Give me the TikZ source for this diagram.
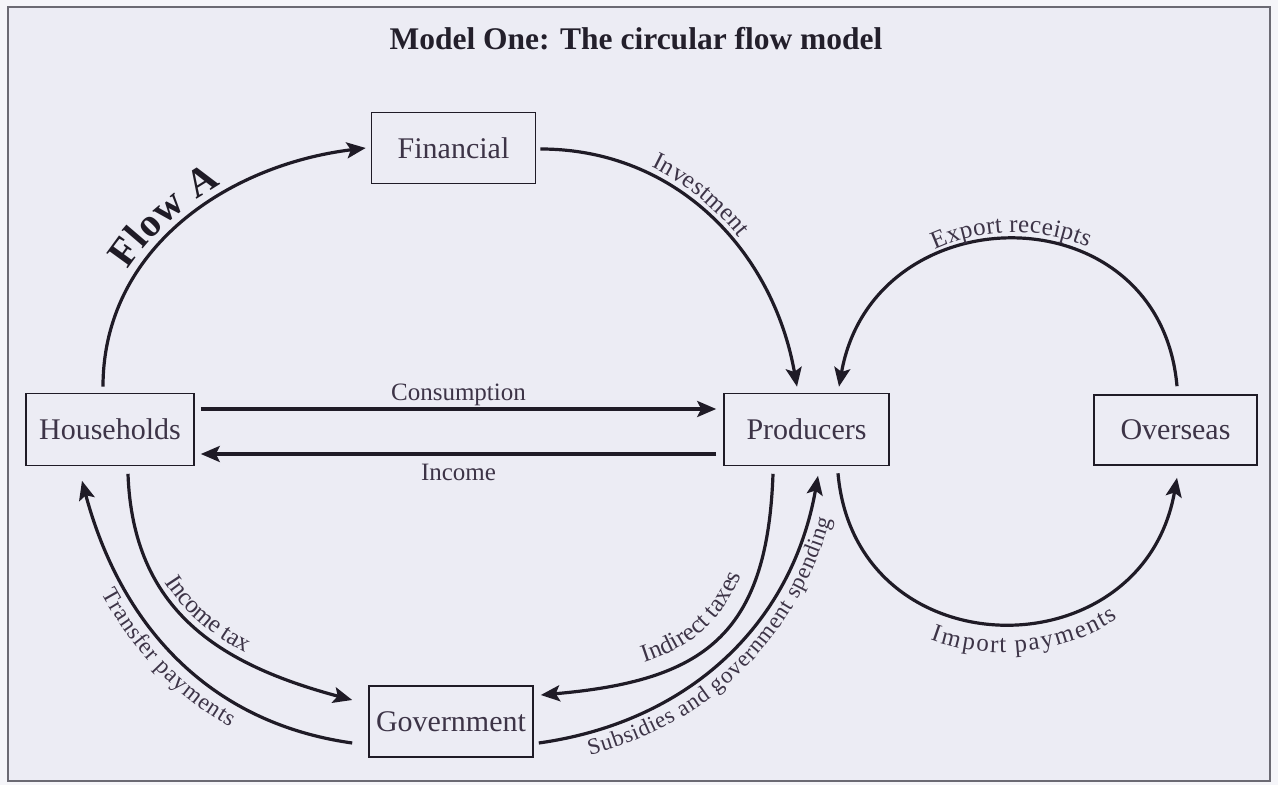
\documentclass[tikz,border=0pt]{standalone}
\usepackage{fontspec}
\setmainfont{Liberation Serif}
\usetikzlibrary{arrows.meta,decorations.text}

\definecolor{ink}{HTML}{1F1B26}
\definecolor{txt}{HTML}{3D3447}
\definecolor{paper}{HTML}{ECECF4}
\definecolor{rim}{HTML}{6B6A73}

\newcommand{\boxfont}{\fontsize{30}{30}\selectfont}
\newcommand{\lblfont}{\fontsize{25}{25}\selectfont}
\newcommand{\flowfont}{\fontsize{40}{40}\selectfont\bfseries}

\tikzset{
	sector/.style={draw=ink, line width=1.6pt, minimum width=164pt, minimum height=71pt, inner sep=0pt, font=\boxfont, text=txt},
	flow/.style={draw=ink, line width=3.2pt, -{Stealth[length=19pt,width=16pt,inset=4pt]}},
	lbl/.style={font=\lblfont, text=txt},
	tagfont/.store in=\tagfont, tagfont=\lblfont,
	tag/.style n args={4}{postaction={decorate, decoration={text along path, text align={#4}, text color=txt, reverse path=#1, raise=#2, text={|\tagfont|#3}}}}
}

\begin{document}
\begin{tikzpicture}[x=1pt,y=1pt]
	\useasboundingbox (0,0) rectangle (1278,785);
	% background and frame
	\fill[paper!55!white] (0,0) rectangle (1278,785);
	\draw[rim, line width=1.5pt, fill=paper] (8,4) rectangle (1270,778);

	% Title
	\node[font=\fontsize{31.5}{31.5}\selectfont\bfseries, text=ink!85!txt] (title) at (636,746) {Model One: The circular flow model};

	% Sectors
	\node[sector] (fin) at (453.5,637) {Financial};
	\node[sector, minimum width=168pt, minimum height=72pt] (hh) at (110,355.5) {Households};
	\node[sector, minimum width=165pt, minimum height=72pt] (prod) at (806.5,355.5) {Producers};
	\node[sector, minimum width=163pt, minimum height=70pt] (ovs) at (1175.5,355) {Overseas};
	\node[sector] (gov) at (451,63.5) {Government};

	% Flow A
	\draw[flow, postaction={decorate, decoration={text along path, text align={align=center, right indent=30pt}, text color=ink, raise=9pt, text={|\flowfont|Flow A}}}]
		([shift={(-7,6)}]hh.north) to[out=90,in=187] ([shift={(-5,0)}]fin.west);
	% Investment
	\draw[flow, tag={false}{7pt}{Investment}{align=center, right indent=48pt}]
		([shift={(4,-1)}]fin.east) to[out=0,in=100] ([shift={(-9.5,6)}]prod.north);
	% Export receipts
	\draw[flow, tag={true}{7pt}{Export receipts}{align=center}]
		([shift={(1.5,8)}]ovs.north) to[out=95,in=80,looseness=1.5] ([shift={(32.5,6)}]prod.north);
	% Import payments
	\draw[flow, tag={false}{-29pt}{Import payments}{align=center, left indent=40pt}]
		([shift={(31.5,-7)}]prod.south) to[out=-85,in=-100,looseness=1.5] ([shift={(1.5,-12)}]ovs.south);

	% Consumption and income
	\draw[flow] ([shift={(6,20.5)}]hh.east) -- node[lbl, above, inner sep=2pt] (cons) {Consumption} ([shift={(-7,20.5)}]prod.west);
	\draw[flow] ([shift={(-7,-24.5)}]prod.west) -- node[lbl, below, inner sep=9pt] (inc) {Income} ([shift={(6,-24.5)}]hh.east);

	% Government flows
	\draw[flow, tag={false}{7pt}{Income tax}{align=center}]
		([shift={(18,-7.5)}]hh.south) to[out=-88,in=165,looseness=1.1] ([shift={(-16,21.5)}]gov.west);
	\draw[flow, tagfont=\fontsize{23.5}{23.5}\selectfont, tag={true}{-23pt}{Transfer payments}{align=center, right indent=8pt}]
		([shift={(-16,-21.5)}]gov.west) to[out=172,in=-75] ([shift={(-28,-14.5)}]hh.south);
	\draw[flow]
		([shift={(-33.5,-7.5)}]prod.south) to[out=-92,in=5,looseness=1.3] ([shift={(7,26.5)}]gov.east);
	\path[tag={false}{0pt}{Indirect taxes}{align=center}]
		([shift={(9,41)}]gov.east) to[out=5,in=-92,looseness=1.3] ([shift={(-48.5,-7.5)}]prod.south);
	\draw[flow, tagfont=\fontsize{23}{23}\selectfont, tag={false}{-22pt}{Subsidies and government spending}{align=center, left indent=8pt}]
		([shift={(5,-21.5)}]gov.east) to[out=8,in=-100] ([shift={(11.5,-9.5)}]prod.south);

\end{tikzpicture}
\end{document}
